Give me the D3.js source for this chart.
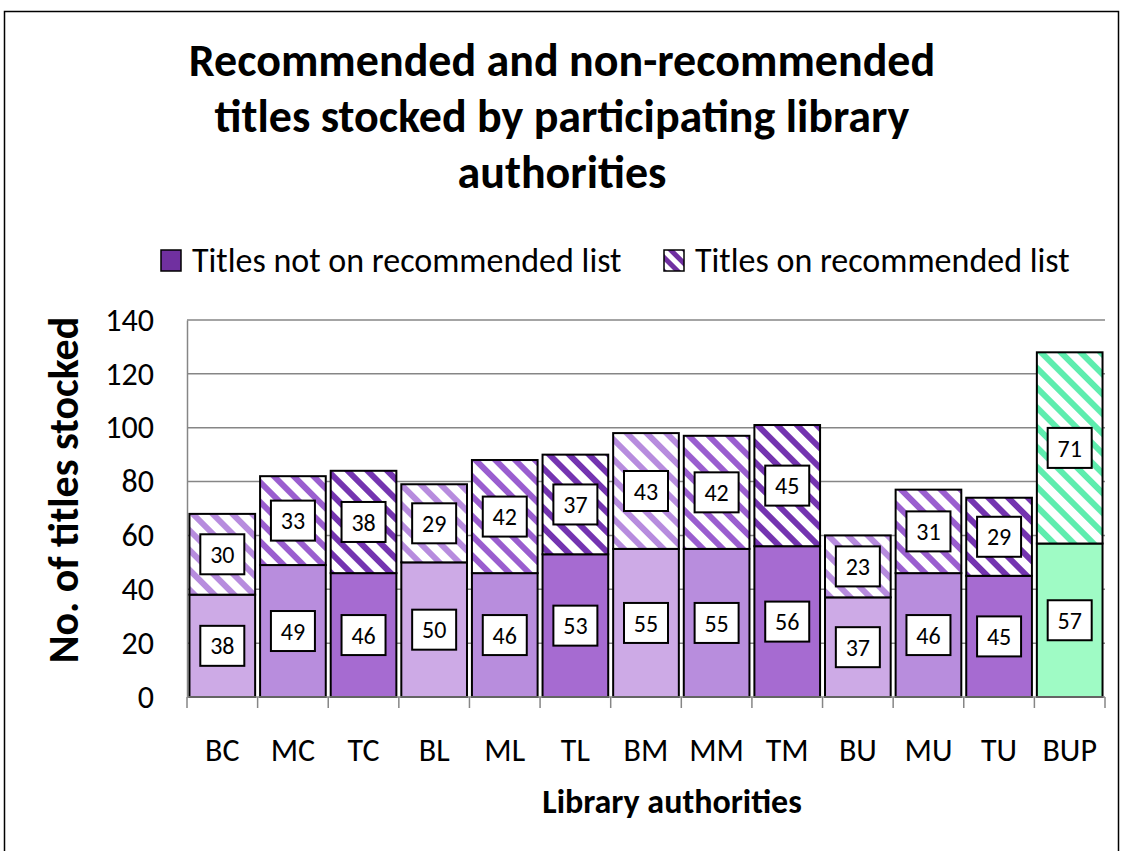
<!DOCTYPE html>
<html><head><meta charset="utf-8">
<script src="https://cdn.jsdelivr.net/npm/d3@7"></script>
<style>
html,body{margin:0;padding:0;background:#fff;}
svg{display:block;font-family:Carlito,Lato,"Open Sans",sans-serif;}
</style></head>
<body>
<svg id="chart" width="1123" height="851"></svg>
<script>
const categories = ["BC","MC","TC","BL","ML","TL","BM","MM","TM","BU","MU","TU","BUP"];
const notRecommended = [38,49,46,50,46,53,55,55,56,37,46,45,57];
const recommended = [30,33,38,29,42,37,43,42,45,23,31,29,71];
const yTicks = [0,20,40,60,80,100,120,140];
const seriesNames = ["Titles not on recommended list","Titles on recommended list"];
const titleLines = ["Recommended and non-recommended","titles stocked by participating library","authorities"];

// colours
const fillColors = ["#CDAAE6","#B88DDD","#A66BD1","#CDAAE6","#B88DDD","#A66BD1","#CDAAE6","#B88DDD","#A66BD1","#CDAAE6","#B88DDD","#A66BD1","#9FFBC5"];
const stripeColors = ["#B78CDE","#9A5ECF","#7434B0","#B78CDE","#9A5ECF","#7434B0","#B78CDE","#9A5ECF","#7434B0","#B78CDE","#9A5ECF","#7434B0","#5EEDAE"];

const svg = d3.select("#chart");
const defs = svg.append("defs");
stripeColors.forEach((c,i)=>{
  const p = defs.append("pattern").attr("id","stripe"+i)
    .attr("patternUnits","userSpaceOnUse").attr("width",14).attr("height",14)
    .attr("patternTransform","rotate(45)");
  p.append("rect").attr("width",14).attr("height",14).attr("fill","#fff");
  p.append("rect").attr("width",14).attr("height",6).attr("fill",c);
});
const lp = defs.append("pattern").attr("id","legendStripe")
  .attr("patternUnits","userSpaceOnUse").attr("width",10).attr("height",10)
  .attr("patternTransform","rotate(45)");
lp.append("rect").attr("width",10).attr("height",10).attr("fill","#fff");
lp.append("rect").attr("width",10).attr("height",5).attr("fill","#7030A0");

// outer border
svg.append("rect").attr("x",4.5).attr("y",11.5).attr("width",1114).attr("height",850)
  .attr("fill","none").attr("stroke","#000").attr("stroke-width",1.5);

// title
svg.append("g").selectAll("text").data(titleLines).join("text")
  .attr("x",562).attr("y",(d,i)=>76+i*56)
  .attr("text-anchor","middle").attr("font-weight","bold").attr("font-size",46)
  .attr("fill","#000").text(d=>d);

const margin = {left:187, right:1105, top:320, bottom:697};
const x = d3.scaleBand().domain(categories).range([margin.left, margin.right]).paddingInner(0.07).paddingOuter(0.035);
const xEdge = d3.scaleBand().domain(categories).range([margin.left, margin.right]).padding(0);
const y = d3.scaleLinear().domain([0,140]).range([margin.bottom, margin.top]);

// gridlines
svg.append("g").selectAll("line").data(yTicks.filter(t=>t>0)).join("line")
  .attr("x1",margin.left).attr("x2",margin.right)
  .attr("y1",d=>y(d)).attr("y2",d=>y(d))
  .attr("stroke","#868686").attr("stroke-width",1.5);

// y axis
const yAxis = svg.append("g").attr("transform",`translate(${margin.left},0)`)
  .call(d3.axisLeft(y).tickValues(yTicks).tickSize(0).tickPadding(33));
yAxis.select(".domain").attr("stroke","#868686").attr("stroke-width",1.5);
yAxis.selectAll("text").attr("font-size",32).attr("fill","#000").attr("font-family","Carlito,Lato,sans-serif");

// bars
const data = categories.map((c,i)=>({c,i,a:notRecommended[i],b:recommended[i]}));
const bars = svg.append("g");
bars.selectAll("rect.a").data(data).join("rect").attr("class","a")
  .attr("x",d=>x(d.c)).attr("width",x.bandwidth())
  .attr("y",d=>y(d.a)).attr("height",d=>y(0)-y(d.a))
  .attr("fill",d=>fillColors[d.i]).attr("stroke","#000").attr("stroke-width",2);
bars.selectAll("rect.b").data(data).join("rect").attr("class","b")
  .attr("x",d=>x(d.c)).attr("width",x.bandwidth())
  .attr("y",d=>y(d.a+d.b)).attr("height",d=>y(d.a)-y(d.a+d.b))
  .attr("fill",d=>`url(#stripe${d.i})`).attr("stroke","#000").attr("stroke-width",2);

// x axis
const xAxisG = svg.append("g").attr("transform",`translate(0,${margin.bottom})`);
xAxisG.append("line").attr("x1",margin.left).attr("x2",margin.right).attr("y1",0).attr("y2",0)
  .attr("stroke","#868686").attr("stroke-width",1.5);
const edges = categories.map(c=>xEdge(c)).concat([margin.right]);
xAxisG.selectAll("line.tick").data(edges).join("line").attr("class","tick")
  .attr("x1",d=>d).attr("x2",d=>d).attr("y1",0).attr("y2",11)
  .attr("stroke","#868686").attr("stroke-width",1.5);
xAxisG.selectAll("text").data(categories).join("text")
  .attr("x",d=>xEdge(d)+xEdge.bandwidth()/2).attr("y",64)
  .attr("text-anchor","middle").attr("font-size",32).attr("fill","#000").text(d=>d);

// value labels
function addLabels(key, base){
  const g = svg.append("g").selectAll("g").data(data).join("g")
    .attr("transform",d=>{
      const lo = base(d), hi = lo + d[key];
      return `translate(${x(d.c)+x.bandwidth()/2},${(y(lo)+y(hi))/2})`;
    });
  g.append("rect").attr("x",-22).attr("y",-20).attr("width",44).attr("height",40)
    .attr("fill","#fff").attr("stroke","#000").attr("stroke-width",2);
  g.append("text").attr("text-anchor","middle").attr("dy","0.36em")
    .attr("font-size",24).attr("fill","#000").text(d=>d[key]);
}
addLabels("a", d=>0);
addLabels("b", d=>d.a);

// legend
const legend = svg.append("g");
legend.append("rect").attr("x",161).attr("y",250).attr("width",20).attr("height",21)
  .attr("fill","#7030A0").attr("stroke","#000").attr("stroke-width",1.5);
legend.append("text").attr("x",192).attr("y",272).attr("font-size",34).attr("fill","#000").text(seriesNames[0]);
legend.append("rect").attr("x",664).attr("y",250).attr("width",20).attr("height",21)
  .attr("fill","url(#legendStripe)").attr("stroke","#000").attr("stroke-width",1.5);
legend.append("text").attr("x",695).attr("y",272).attr("font-size",34).attr("fill","#000").text(seriesNames[1]);

// axis titles
svg.append("text").attr("transform","translate(78,490) rotate(-90)")
  .attr("text-anchor","middle").attr("font-weight","bold").attr("font-size",42)
  .attr("fill","#000").text("No. of titles stocked");
svg.append("text").attr("x",672).attr("y",813)
  .attr("text-anchor","middle").attr("font-weight","bold").attr("font-size",34)
  .attr("fill","#000").text("Library authorities");
</script>
</body></html>
